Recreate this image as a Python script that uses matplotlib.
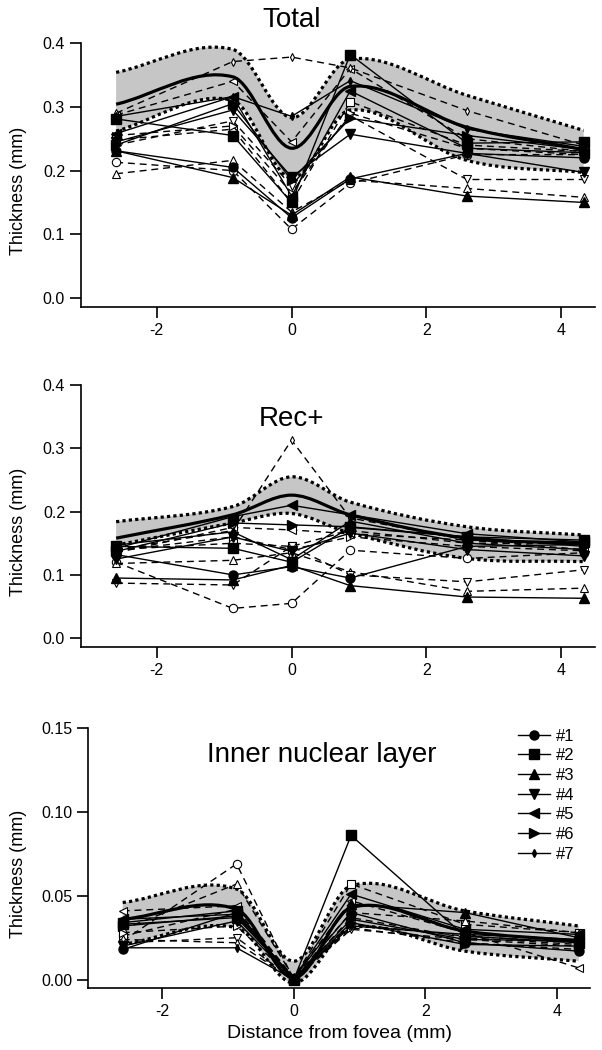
import numpy as np
import matplotlib
matplotlib.use('Agg')
import matplotlib.pyplot as plt
from matplotlib.path import Path
from matplotlib.patches import PathPatch

plt.rcParams['font.family'] = ['Liberation Sans', 'DejaVu Sans']
plt.rcParams['axes.unicode_minus'] = False

# eccentricities (mm from fovea)
dist = [-2.6, -0.87, 0.0, 0.87, 2.6, 4.33]

markers = ['o', 's', '^', 'v', '<', '>', 'd']
labels = ['#1', '#2', '#3', '#4', '#5', '#6', '#7']

# ---- Total ----
total_filled = [
    [0.231, 0.205, 0.126, 0.187, 0.227, 0.220],
    [0.281, 0.255, 0.150, 0.382, 0.243, 0.245],
    [0.231, 0.189, 0.130, 0.190, 0.160, 0.150],
    [0.245, 0.295, 0.190, 0.257, 0.227, 0.197],
    [0.258, 0.316, 0.160, 0.325, 0.235, 0.228],
    [0.240, 0.305, 0.185, 0.282, 0.255, 0.233],
    [0.285, 0.316, 0.285, 0.341, 0.265, 0.238],
]
total_open = [
    [0.213, 0.200, 0.108, 0.180, 0.225, 0.225],
    [0.248, 0.265, 0.150, 0.308, 0.240, 0.230],
    [0.195, 0.216, 0.135, 0.185, 0.172, 0.158],
    [0.240, 0.278, 0.176, 0.286, 0.186, 0.186],
    [0.287, 0.340, 0.245, 0.360, 0.250, 0.230],
    [0.255, 0.270, 0.165, 0.290, 0.235, 0.225],
    [0.290, 0.371, 0.378, 0.361, 0.294, 0.240],
]
total_mean = [0.304, 0.347, 0.235, 0.332, 0.268, 0.233]
total_hi = [0.354, 0.390, 0.283, 0.375, 0.318, 0.263]
total_lo = [0.262, 0.310, 0.188, 0.295, 0.216, 0.197]

# ---- Rec+ ----
rec_filled = [
    [0.132, 0.100, 0.113, 0.095, 0.145, 0.148],
    [0.145, 0.142, 0.120, 0.175, 0.160, 0.155],
    [0.095, 0.092, 0.115, 0.083, 0.065, 0.063],
    [0.125, 0.160, 0.137, 0.166, 0.140, 0.130],
    [0.142, 0.192, 0.210, 0.195, 0.165, 0.152],
    [0.137, 0.182, 0.179, 0.176, 0.160, 0.145],
    [0.147, 0.168, 0.124, 0.185, 0.150, 0.140],
]
rec_open = [
    [0.120, 0.047, 0.055, 0.139, 0.126, 0.135],
    [0.140, 0.150, 0.145, 0.170, 0.150, 0.150],
    [0.118, 0.123, 0.135, 0.105, 0.074, 0.079],
    [0.087, 0.084, 0.145, 0.100, 0.089, 0.108],
    [0.135, 0.175, 0.171, 0.165, 0.155, 0.140],
    [0.138, 0.160, 0.140, 0.160, 0.145, 0.138],
    [0.140, 0.170, 0.313, 0.190, 0.155, 0.150],
]
rec_mean = [0.158, 0.195, 0.226, 0.195, 0.158, 0.150]
rec_hi = [0.184, 0.208, 0.255, 0.215, 0.176, 0.163]
rec_lo = [0.147, 0.182, 0.197, 0.166, 0.126, 0.121]

# ---- Inner nuclear layer ----
inl_filled = [
    [0.018, 0.040, 0.000, 0.040, 0.022, 0.017],
    [0.034, 0.041, 0.000, 0.086, 0.026, 0.022],
    [0.033, 0.037, 0.001, 0.045, 0.040, 0.025],
    [0.020, 0.035, 0.000, 0.036, 0.024, 0.023],
    [0.036, 0.039, 0.001, 0.051, 0.030, 0.027],
    [0.032, 0.038, 0.000, 0.034, 0.021, 0.020],
    [0.019, 0.019, 0.000, 0.032, 0.027, 0.024],
]
inl_open = [
    [0.023, 0.069, 0.000, 0.037, 0.025, 0.021],
    [0.026, 0.042, 0.001, 0.057, 0.033, 0.028],
    [0.030, 0.057, 0.001, 0.040, 0.035, 0.028],
    [0.022, 0.025, 0.000, 0.033, 0.026, 0.022],
    [0.041, 0.044, 0.001, 0.047, 0.028, 0.007],
    [0.028, 0.032, 0.000, 0.031, 0.022, 0.018],
    [0.024, 0.022, 0.000, 0.030, 0.024, 0.020],
]
inl_mean = [0.036, 0.042, 0.001, 0.043, 0.029, 0.023]
inl_hi = [0.046, 0.054, 0.011, 0.056, 0.041, 0.032]
inl_lo = [0.021, 0.031, -0.002, 0.031, 0.017, 0.011]


def smooth(x, y):
    # cubic bezier through the points, catmull-rom style tangents
    x = np.asarray(x, float)
    y = np.asarray(y, float)
    n = len(x)
    m = np.zeros(n)
    m[1:-1] = (y[2:] - y[:-2]) / (x[2:] - x[:-2])
    m[0] = (y[1] - y[0]) / (x[1] - x[0])
    m[-1] = (y[-1] - y[-2]) / (x[-1] - x[-2])
    verts = [(x[0], y[0])]
    codes = [Path.MOVETO]
    for i in range(n - 1):
        h = x[i + 1] - x[i]
        verts += [(x[i] + h / 3, y[i] + m[i] * h / 3),
                  (x[i + 1] - h / 3, y[i + 1] - m[i + 1] * h / 3),
                  (x[i + 1], y[i + 1])]
        codes += [Path.CURVE4] * 3
    return verts, codes


def panel(ax, filled, opened, mean, hi, lo):
    hv, hc = smooth(dist, hi)
    lv, lc = smooth(dist, lo)
    band = Path(hv + lv[::-1] + [hv[0]],
                hc + [Path.LINETO] + lc[1:] + [Path.CLOSEPOLY])
    ax.add_patch(PathPatch(band, facecolor='#c6c6c6', edgecolor='none', zorder=1))
    for v, c in ((hv, hc), (lv, lc)):
        ax.add_patch(PathPatch(Path(v, c), fill=False, edgecolor='black',
                               lw=2.3, linestyle=(0, (1, 1)), zorder=2))
    for i in range(7):
        ms = 4 if markers[i] == 'd' else 6
        ax.plot(dist, opened[i], ls=(0, (5, 3.5)), color='black', lw=1,
                marker=markers[i], ms=ms, mfc='white', mec='black', mew=0.8, zorder=3)
    for i in range(7):
        ms = 4 if markers[i] == 'd' else 6.5
        ax.plot(dist, filled[i], ls='-', color='black', lw=1,
                marker=markers[i], ms=ms, mfc='black', mec='black', zorder=4,
                label=labels[i])
    mv, mc = smooth(dist, mean)
    ax.add_patch(PathPatch(Path(mv, mc), fill=False, edgecolor='black', lw=2.3, zorder=5))

    ax.set_xlim(-3.12, 4.5)
    ax.set_xticks([-2, 0, 2, 4])
    ax.spines['top'].set_visible(False)
    ax.spines['right'].set_visible(False)
    ax.spines['left'].set_linewidth(1.2)
    ax.spines['bottom'].set_linewidth(1.2)
    ax.tick_params(direction='out', length=8, width=1.2, labelsize=11.5)
    ax.set_ylabel('Thickness (mm)', fontsize=13)


fig = plt.figure(figsize=(6.02, 10.5), dpi=100)

ax1 = fig.add_axes([0.1346, 0.7076, 0.854, 0.2514])
panel(ax1, total_filled, total_open, total_mean, total_hi, total_lo)
ax1.set_ylim(-0.014, 0.4)
ax1.set_yticks([0.0, 0.1, 0.2, 0.3, 0.4])
ax1.set_yticklabels(['0.0', '0.1', '0.2', '0.3', '0.4'])
ax1.text(0, 0.436, 'Total', ha='center', va='center', fontsize=20, clip_on=False)
ax1.yaxis.set_label_coords(-0.105, 0.44)

ax2 = fig.add_axes([0.1346, 0.3838, 0.854, 0.2495])
panel(ax2, rec_filled, rec_open, rec_mean, rec_hi, rec_lo)
ax2.set_ylim(-0.014, 0.4)
ax2.set_yticks([0.0, 0.1, 0.2, 0.3, 0.4])
ax2.set_yticklabels(['0.0', '0.1', '0.2', '0.3', '0.4'])
ax2.text(0, 0.347, 'Rec+', ha='center', va='center', fontsize=20)
ax2.yaxis.set_label_coords(-0.105, 0.44)

ax3 = fig.add_axes([0.147, 0.059, 0.833, 0.2476])
panel(ax3, inl_filled, inl_open, inl_mean, inl_hi, inl_lo)
ax3.set_ylim(-0.005, 0.15)
ax3.set_yticks([0.0, 0.05, 0.10, 0.15])
ax3.set_yticklabels(['0.00', '0.05', '0.10', '0.15'])
ax3.text(0.43, 0.134, 'Inner nuclear layer', ha='center', va='center', fontsize=20)
ax3.yaxis.set_label_coords(-0.123, 0.44)
ax3.set_xlabel('Distance from fovea (mm)', fontsize=14, labelpad=4)
ax3.legend(loc='upper left', bbox_to_anchor=(0.84, 1.03), frameon=False,
           fontsize=12, handlelength=1.9, handletextpad=0.4, labelspacing=0.28,
           borderpad=0)

fig.savefig('out.png', dpi=100)
